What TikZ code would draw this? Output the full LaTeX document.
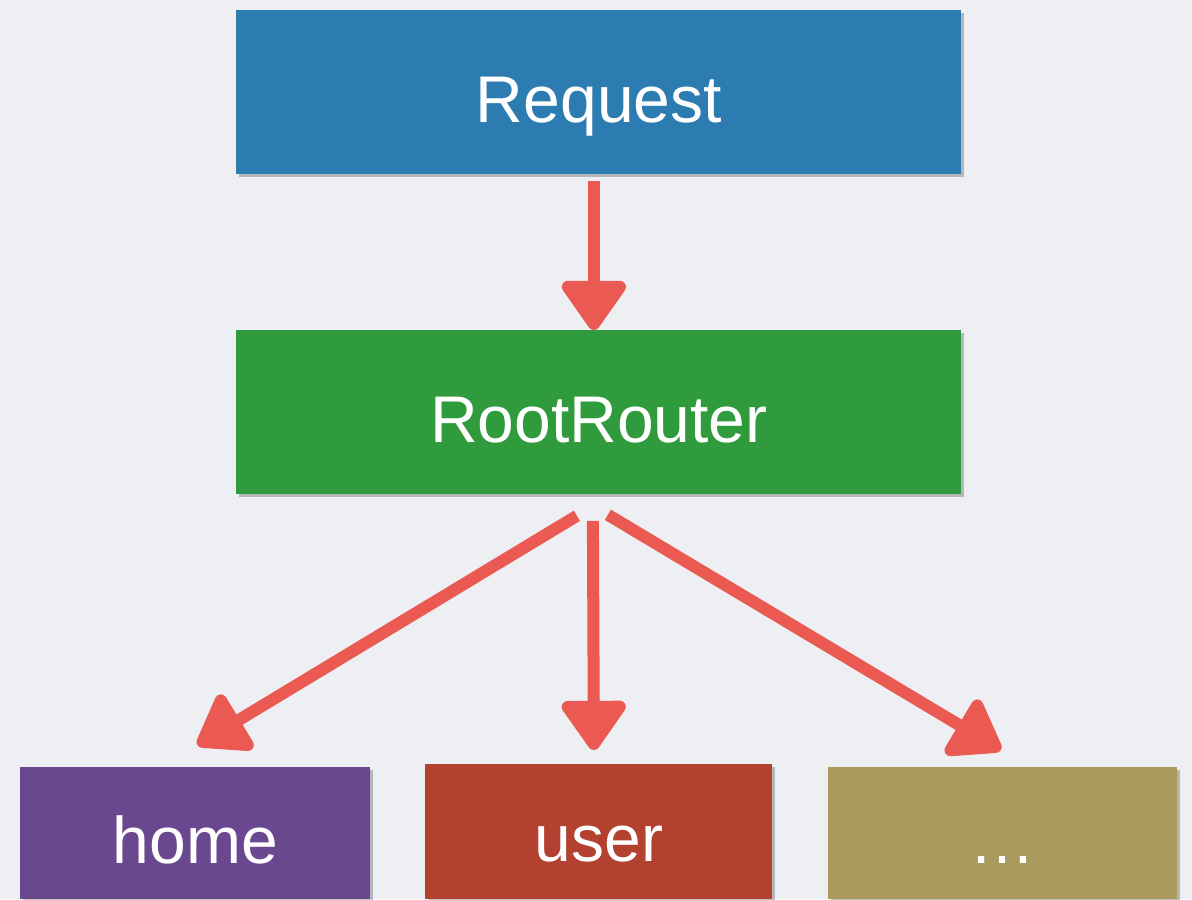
\documentclass[tikz,border=0pt]{standalone}
\usepackage{fontspec}
\setmainfont{Liberation Sans}
\usetikzlibrary{arrows.meta,shadows}
\definecolor{bg}{HTML}{EEEFF3}
\definecolor{reqblue}{HTML}{2C7CB1}
\definecolor{rootgreen}{HTML}{2F9B3C}
\definecolor{homepurple}{HTML}{6A4890}
\definecolor{userred}{HTML}{B2412F}
\definecolor{moreolive}{HTML}{A99A5E}
\definecolor{arrowred}{HTML}{EA5A53}
\tikzset{
  box/.style={rectangle, draw=none, inner sep=0pt, text=white,
    font=\fontsize{33}{40}\selectfont, text height=34pt, text depth=4pt,
    drop shadow={shadow xshift=1.2pt, shadow yshift=-1.5pt, opacity=0.35, fill=black!70}},
  arr/.style={draw=arrowred, line width=6pt,
    -{Triangle[width=36pt, length=27pt, round]}},
}
\begin{document}
\begin{tikzpicture}[x=0.5pt, y=-0.5pt]
\useasboundingbox (0,0) rectangle (1192,899);
\clip (0,0) rectangle (1192,899);
\fill[bg] (0,0) rectangle (1192,899);
\node[box, fill=reqblue, anchor=north west, minimum width=362.5pt, minimum height=82pt] (req) at (236,10) {Request};
\node[box, fill=rootgreen, anchor=north west, minimum width=362.5pt, minimum height=82pt] (root) at (236,330) {RootRouter};
\node[box, fill=homepurple, anchor=north west, minimum width=175pt, minimum height=66pt] (home) at (20,767) {home};
\node[box, fill=userred, anchor=north west, minimum width=173.5pt, minimum height=67.5pt] (user) at (425,764) {user};
\node[box, fill=moreolive, anchor=north west, minimum width=174.5pt, minimum height=66pt] (more) at (828,767) {\ldots};
\draw[arr] ([xshift=-2.5pt, yshift=-3pt]req.south) -- ([xshift=-2.5pt]root.north);
\draw[arr] ([xshift=-11pt, yshift=-10.5pt]root.south) -- ([xshift=1pt, yshift=11pt]home.north);
\draw[arr] ([xshift=-3pt, yshift=-13pt]root.south) -- ([xshift=-2.5pt, yshift=7pt]user.north);
\draw[arr] ([xshift=4.5pt, yshift=-10pt]root.south) -- ([xshift=-1pt, yshift=8.5pt]more.north);
\end{tikzpicture}
\end{document}
